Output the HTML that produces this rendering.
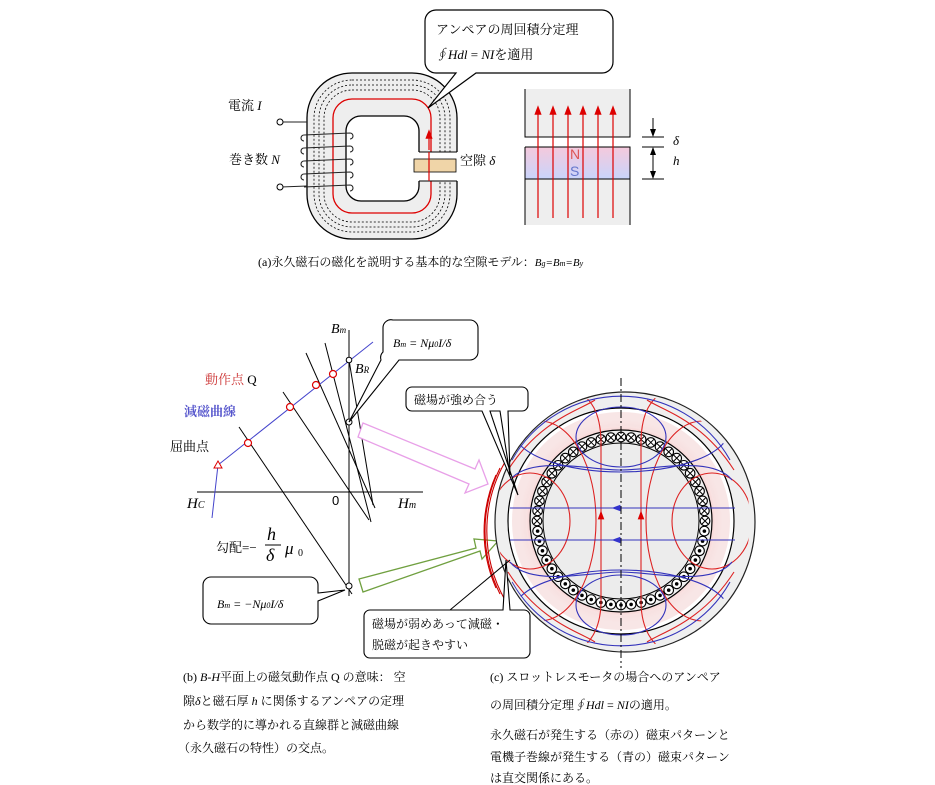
<!DOCTYPE html>
<html><head><meta charset="utf-8"><style>
html,body{margin:0;padding:0;background:#fff;}
svg{display:block;font-family:"Liberation Serif","Noto Serif CJK SC","Noto Sans CJK JP",serif;}
</style></head><body>
<svg id="s" width="935" height="785" viewBox="0 0 935 785" xmlns="http://www.w3.org/2000/svg">
<defs>
<linearGradient id="mg" x1="0" y1="0" x2="0" y2="1"><stop offset="0" stop-color="#f5c9dc"/><stop offset="1" stop-color="#c9d4fb"/></linearGradient>
<marker id="ar" markerWidth="8" markerHeight="8" refX="4" refY="4" orient="auto"><path d="M0,1 L8,4 L0,7 z" fill="#d00"/></marker>
<marker id="ab" markerWidth="8" markerHeight="8" refX="4" refY="4" orient="auto"><path d="M0,1 L8,4 L0,7 z" fill="#33c"/></marker>
<marker id="ak" markerWidth="8" markerHeight="8" refX="7" refY="4" orient="auto"><path d="M0,1 L8,4 L0,7 z" fill="#000"/></marker>
<radialGradient id="band" cx="0.5" cy="0.5" r="0.5"><stop offset="0.8" stop-color="#fff"/><stop offset="0.9" stop-color="#f7d8d8"/><stop offset="1" stop-color="#fff"/></radialGradient>
<clipPath id="cc"><circle cx="623" cy="521" r="127"/></clipPath>
</defs>

<!-- ===== Panel (a) ===== -->
<path d="M352,73 H412 A45,45 0 0 1 457,118 V194 A45,45 0 0 1 412,239 H352 A45,45 0 0 1 307,194 V118 A45,45 0 0 1 352,73 Z" fill="#eee" stroke="#000" stroke-width="1.3"/>
<path d="M361,116 H404 A15,15 0 0 1 419,131 V186 A15,15 0 0 1 404,201 H361 A15,15 0 0 1 346,186 V131 A15,15 0 0 1 361,116 Z" fill="#fff" stroke="#000" stroke-width="1.3"/>
<g id="loops" fill="none"></g>
<rect x="414" y="152" width="46" height="29" fill="#fff"/>
<line x1="419" y1="152" x2="457" y2="152" stroke="#000"/>
<line x1="419" y1="181" x2="457" y2="181" stroke="#000"/>
<rect x="414" y="159" width="42" height="13" fill="#f0d5a8" stroke="#000" stroke-width="0.8"/>
<line x1="429" y1="152" x2="429" y2="181" stroke="#d00" stroke-width="1.2"/>
<line x1="429" y1="150" x2="429" y2="134" stroke="#d00" stroke-width="1.2" marker-end="url(#ar)"/>
<!-- coils -->
<g fill="none" stroke="#222" stroke-width="1.1">
<path d="M281,122 L307,122"/>
<path d="M304,135 L350,133 A3,3 0 0 1 350,139 M304,148 L350,146 A3,3 0 0 1 350,152 M304,161 L350,159 A3,3 0 0 1 350,165 M304,174 L350,172 A3,3 0 0 1 350,178 M304,187 L350,185 A3,3 0 0 1 350,191"/>
<path d="M304,135 A3,3 0 0 0 304,141 M304,148 A3,3 0 0 0 304,154 M304,161 A3,3 0 0 0 304,167 M304,174 A3,3 0 0 0 304,180"/>
<path d="M281,187 L307,186"/>
</g>
<circle cx="280" cy="122" r="3" fill="#fff" stroke="#000"/>
<circle cx="280" cy="187" r="3" fill="#fff" stroke="#000"/>
<text x="228" y="110" font-size="13">電流 <tspan font-style="italic">I</tspan></text>
<text x="229" y="164" font-size="13">巻き数 <tspan font-style="italic">N</tspan></text>
<text x="460" y="165" font-size="13">空隙 <tspan font-style="italic">δ</tspan></text>
<!-- callout top -->
<path d="M436,10 H602 A11,11 0 0 1 613,21 V62 A11,11 0 0 1 602,73 H476 L428,108 L456,73 H436 A11,11 0 0 1 425,62 V21 A11,11 0 0 1 436,10 Z" fill="#fff" stroke="#000" stroke-width="1.2"/>
<text x="436" y="34" font-size="13">アンペアの周回積分定理</text>
<text x="435" y="59" font-size="13"><tspan font-style="italic">∮Hdl</tspan> = <tspan font-style="italic">NI</tspan>を適用</text>
<!-- magnet block -->
<rect x="525" y="89" width="105" height="48" fill="#eee"/>
<rect x="525" y="179" width="105" height="46" fill="#eee"/>
<rect x="525" y="147" width="105" height="32" fill="url(#mg)"/>
<path d="M525,89 V137 H630 V89 M525,225 V179 H630 V225 M525,147 H630 V179" fill="none" stroke="#000" stroke-width="1"/>
<line x1="525" y1="147" x2="525" y2="179" stroke="#000"/>
<g stroke="#d00" stroke-width="1.2" marker-end="url(#ar)">
<line x1="538" y1="218" x2="538" y2="110"/><line x1="553" y1="218" x2="553" y2="110"/><line x1="568" y1="218" x2="568" y2="110"/><line x1="583" y1="218" x2="583" y2="110"/><line x1="598" y1="218" x2="598" y2="110"/><line x1="613" y1="218" x2="613" y2="110"/>
</g>
<text x="570" y="159" font-size="14" fill="#d55" font-family="Liberation Sans">N</text>
<text x="570" y="176" font-size="14" fill="#67c" font-family="Liberation Sans">S</text>
<g stroke="#000" fill="none">
<line x1="642" y1="137" x2="664" y2="137"/><line x1="642" y1="147" x2="664" y2="147"/><line x1="642" y1="179" x2="664" y2="179"/>
<line x1="653" y1="118" x2="653" y2="136" marker-end="url(#ak)"/>
<line x1="653" y1="162" x2="653" y2="148" marker-end="url(#ak)"/>
<line x1="653" y1="162" x2="653" y2="178" marker-end="url(#ak)"/>
</g>
<text x="673" y="145" font-size="13" font-style="italic">δ</text>
<text x="673" y="165" font-size="13" font-style="italic">h</text>
<text x="258" y="266" font-size="12">(a)永久磁石の磁化を説明する基本的な空隙モデル：<tspan font-style="italic" font-size="11">B<tspan font-size="8">g</tspan>=B<tspan font-size="8">m</tspan>=B<tspan font-size="8">y</tspan></tspan></text>

<!-- ===== Panel (b) ===== -->
<g stroke="#000" stroke-width="1" fill="none">
<line x1="349" y1="330" x2="349" y2="596"/>
<line x1="197" y1="492" x2="423" y2="492"/>
<line x1="239" y1="427" x2="352" y2="594"/>
<line x1="283" y1="392" x2="369" y2="520"/>
<line x1="306" y1="353" x2="375" y2="508"/>
<line x1="325" y1="343" x2="371" y2="522"/>
<line x1="349" y1="360" x2="373" y2="505"/>
</g>
<polyline points="212,518 218,465 373,342" fill="none" stroke="#44c" stroke-width="1"/>
<path d="M218,461 L222,468 L214,468 Z" fill="#fff" stroke="#d00"/>
<g fill="#fff" stroke="#d00" stroke-width="1.2">
<circle cx="248" cy="443" r="3.5"/><circle cx="290" cy="407" r="3.5"/><circle cx="316" cy="385" r="3.5"/><circle cx="333" cy="374" r="3.5"/>
</g>
<g fill="#fff" stroke="#000"><circle cx="349" cy="360" r="2.8"/><circle cx="349" cy="422" r="3"/><circle cx="349" cy="586" r="3"/></g>
<text x="331" y="333" font-size="14" font-style="italic">B<tspan font-size="9">m</tspan></text>
<text x="355" y="373" font-size="14" font-style="italic">B<tspan font-size="9">R</tspan></text>
<text x="205" y="384" font-size="13" fill="#c33">動作点 <tspan fill="#000">Q</tspan></text>
<text x="184" y="416" font-size="13" fill="#55c" font-weight="bold">減磁曲線</text>
<text x="170" y="451" font-size="13">屈曲点</text>
<text x="187" y="508" font-size="15" font-style="italic">H<tspan font-size="10">C</tspan></text>
<text x="332" y="505" font-size="13" font-family="Liberation Sans">0</text>
<text x="398" y="508" font-size="15" font-style="italic">H<tspan font-size="10">m</tspan></text>
<text x="216" y="552" font-size="13">勾配=−</text>
<text x="267" y="540" font-size="18" font-style="italic">h</text>
<line x1="265" y1="545" x2="281" y2="545" stroke="#000"/>
<text x="266" y="561" font-size="18" font-style="italic">δ</text>
<text x="285" y="554" font-size="17" font-style="italic">μ</text><text x="298" y="556" font-size="10">0</text>
<!-- callouts b -->
<path d="M393,320 H470 A8,8 0 0 1 478,328 V352 A8,8 0 0 1 470,360 H399 L349,422 L381,360 A8,8 0 0 1 383,352 V328 A8,8 0 0 1 393,320 Z" fill="#fff" stroke="#000" stroke-width="1.1"/>
<text x="393" y="347" font-size="12" font-style="italic">B<tspan font-size="8">m</tspan> = Nμ<tspan font-size="8">0</tspan>I/δ</text>
<path d="M211,577 H310 A8,8 0 0 1 318,585 V593 L345,590 L318,601 V616 A8,8 0 0 1 310,624 H211 A8,8 0 0 1 203,616 V585 A8,8 0 0 1 211,577 Z" fill="#fff" stroke="#000" stroke-width="1.1"/>
<text x="217" y="608" font-size="12" font-style="italic">B<tspan font-size="8">m</tspan> = −Nμ<tspan font-size="8">0</tspan>I/δ</text>
<!-- hollow arrows -->
<path d="M363,423 L475,469 L479,460 L488,484 L465,493 L469,484 L358,437 Z" fill="#fff" stroke="#e8a0e8" stroke-width="1.3"/>
<path d="M359,579 L476,548 L474,539 L498,541 L482,559 L480,551 L363,592 Z" fill="#fff" stroke="#70a040" stroke-width="1.3"/>

<!-- ===== Motor (c) ===== -->
<circle cx="625" cy="522" r="130" fill="#efefef" stroke="#222" stroke-width="1.2"/>
<g fill="none" stroke="#c00" stroke-width="1.1">
<path d="M505,462 A140,140 0 0 0 505,600"/><path d="M500,468 A140,140 0 0 0 500,594"/><path d="M496,475 A140,140 0 0 0 496,588"/>
</g>
<circle cx="621" cy="521" r="102" fill="none" stroke="url(#band)" stroke-width="22"/>
<circle cx="621" cy="521" r="102" fill="none" stroke="#f6e0e0" stroke-width="14" opacity="0.8"/>
<circle cx="621" cy="521" r="113" fill="none" stroke="#000" stroke-width="1.2"/>
<circle cx="621" cy="521" r="91" fill="none" stroke="#000" stroke-width="1.2"/>
<circle cx="621" cy="521" r="78" fill="#ececec" stroke="#000" stroke-width="1"/>
<g id="coils"></g>
<g clip-path="url(#cc)">
<g fill="none" stroke="#d22" stroke-width="1.1">
<line x1="601" y1="604" x2="601" y2="440"/><line x1="641" y1="604" x2="641" y2="440"/>
<line x1="601" y1="530" x2="601" y2="515" marker-end="url(#ar)"/><line x1="641" y1="530" x2="641" y2="515" marker-end="url(#ar)"/>
<path d="M601,440 C600,410 590,400 580,392"/><path d="M641,440 C642,410 652,400 662,392"/>
<path d="M601,604 C600,630 590,642 580,650"/><path d="M641,604 C642,630 652,642 662,650"/>
<ellipse cx="530" cy="521" rx="40" ry="48"/><ellipse cx="712" cy="521" rx="40" ry="48"/>
<ellipse cx="540" cy="521" rx="56" ry="100"/><ellipse cx="702" cy="521" rx="56" ry="100"/>
<path d="M508,470 C540,420 580,410 595,400"/><path d="M508,572 C540,622 580,632 595,642"/>
<path d="M734,470 C702,420 662,410 647,400"/><path d="M734,572 C702,622 662,632 647,642"/>
</g>
<g fill="none" stroke="#33b" stroke-width="1.1">
<line x1="510" y1="508" x2="735" y2="508"/><line x1="510" y1="540" x2="735" y2="540"/>
<line x1="630" y1="508" x2="616" y2="508" marker-end="url(#ab)"/><line x1="630" y1="540" x2="616" y2="540" marker-end="url(#ab)"/>
<ellipse cx="621" cy="430" rx="108" ry="42"/><ellipse cx="621" cy="612" rx="108" ry="42"/>
<ellipse cx="621" cy="437" rx="45" ry="30"/><ellipse cx="621" cy="605" rx="45" ry="30"/>
<path d="M510,480 C530,455 590,470 621,470 C652,470 712,455 732,480"/>
<path d="M510,562 C530,587 590,572 621,572 C652,572 712,587 732,562"/>
<path d="M512,460 A125,125 0 0 1 730,460"/><path d="M512,582 A125,125 0 0 0 730,582"/>
</g>
</g>
<line x1="621" y1="378" x2="621" y2="668" stroke="#000" stroke-dasharray="8,3,2,3"/>
<!-- callouts c -->
<path d="M412,387 H522 A6,6 0 0 1 528,393 V405 A6,6 0 0 1 522,411 H508 L510,475 L500,411 H490 L518,495 L482,411 H412 A6,6 0 0 1 406,405 V393 A6,6 0 0 1 412,387 Z" fill="#fff" stroke="#000" stroke-width="1.1"/>
<text x="414" y="404" font-size="12">磁場が強め合う</text>
<path d="M370,610 H503 L506,560 L510,610 H524 A6,6 0 0 1 530,616 V652 A6,6 0 0 1 524,658 H370 A6,6 0 0 1 364,652 V616 A6,6 0 0 1 370,610 Z" fill="#fff" stroke="#000" stroke-width="1.1"/>
<line x1="450" y1="610" x2="510" y2="560" stroke="#000"/>
<text x="372" y="628" font-size="12">磁場が弱めあって減磁・</text>
<text x="372" y="649" font-size="12">脱磁が起きやすい</text>

<!-- captions -->
<g font-size="12">
<text x="183" y="681">(b) <tspan font-style="italic">B-H</tspan>平面上の磁気動作点 Q の意味：  空</text>
<text x="183" y="705">隙<tspan font-style="italic">δ</tspan>と磁石厚 <tspan font-style="italic">h</tspan> に関係するアンペアの定理</text>
<text x="183" y="729">から数学的に導かれる直線群と減磁曲線</text>
<text x="178" y="752">（永久磁石の特性）の交点。</text>
<text x="490" y="681">(c) スロットレスモータの場合へのアンペア</text>
<text x="490" y="709">の周回積分定理<tspan font-style="italic">∮Hdl</tspan> = <tspan font-style="italic">NI</tspan>の適用。</text>
<text x="490" y="739">永久磁石が発生する（赤の）磁束パターンと</text>
<text x="490" y="761">電機子巻線が発生する（青の）磁束パターン</text>
<text x="490" y="782">は直交関係にある。</text>
</g>
</svg>
<script>
var NS="http://www.w3.org/2000/svg";
function el(t,a,p){var e=document.createElementNS(NS,t);for(var k in a)e.setAttribute(k,a[k]);p.appendChild(e);return e;}
var L=document.getElementById("loops");
function rr(d,col,dash){var x=307+d,y=73+d,w=150-2*d,h=166-2*d,r=Math.max(45-d,10);
 el("rect",{x:x,y:y,width:w,height:h,rx:r,ry:r,stroke:col,"stroke-width":col=="#d00"?1.3:0.8,"stroke-dasharray":dash||"",fill:"none"},L);}
rr(7,"#000","2,2");rr(12,"#000","2,2");rr(17,"#000","2,2");rr(26,"#d00");
var C=document.getElementById("coils");
for(var i=0;i<52;i++){var a=i/52*2*Math.PI;var x=621+84*Math.cos(a),y=521+84*Math.sin(a);
 el("circle",{cx:x,cy:y,r:4.8,fill:"#fff",stroke:"#000","stroke-width":1.1},C);
 if(Math.sin(a)>0.05){el("circle",{cx:x,cy:y,r:1.8,fill:"#000"},C);}
 else{el("path",{d:"M"+(x-3)+","+(y-3)+"L"+(x+3)+","+(y+3)+"M"+(x+3)+","+(y-3)+"L"+(x-3)+","+(y+3),stroke:"#000","stroke-width":1},C);}
}
</script>
</body></html>
